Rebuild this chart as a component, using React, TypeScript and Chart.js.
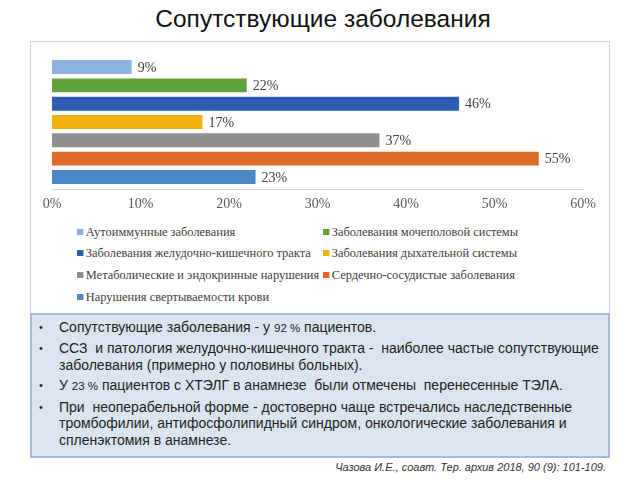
import React, { useEffect, useRef } from "react";
import { Chart, registerables } from "chart.js";

Chart.register(...registerables);

const categories = [
  "Аутоиммунные  заболевания",
  "Заболевания мочеполовой системы",
  "Заболевания желудочно-кишечного тракта",
  "Заболевания дыхательной системы",
  "Метаболические и эндокринные нарушения",
  "Сердечно-сосудистые заболевания",
  "Нарушения свертываемости крови",
];
const values = [9, 22, 46, 17, 37, 55, 23];
const colors = ["#8eb4e3", "#62a23c", "#2e5db3", "#f0b30c", "#8f8f8f", "#de6a27", "#4a88c8"];
const xTickMin = 0;
const xTickMax = 60;
const xTickStep = 10;

const title = "Сопутствующие заболевания";
const citation = "Чазова И.Е., соавт. Тер. архив 2018, 90 (9): 101-109.";

const valueLabels = {
  id: "valueLabels",
  afterDatasetsDraw(chart: any) {
    const ctx = chart.ctx;
    ctx.save();
    ctx.font = "14px 'Liberation Serif'";
    ctx.fillStyle = "#404040";
    ctx.textBaseline = "middle";
    ctx.textAlign = "left";
    chart.data.datasets.forEach((ds: any, i: number) => {
      const meta = chart.getDatasetMeta(i);
      meta.data.forEach((el: any, j: number) => {
        ctx.fillText(ds.data[j] + "%", el.x + 6, el.y + 1);
      });
    });
    ctx.restore();
  },
};

function ChartBox() {
  const ref = useRef<HTMLCanvasElement>(null);
  useEffect(() => {
    if (!ref.current) return;
    const chart = new Chart(ref.current, {
      type: "bar",
      data: {
        labels: [""],
        datasets: categories.map((name, i) => ({
          label: name,
          data: [values[i]],
          backgroundColor: colors[i],
          borderWidth: 0,
          barPercentage: 0.76,
          categoryPercentage: 0.957,
        })),
      },
      options: {
        indexAxis: "y",
        animation: false,
        responsive: false,
        layout: { padding: { left: 22, right: 26, top: 14, bottom: 0 } },
        plugins: { legend: { display: false }, tooltip: { enabled: false } },
        scales: {
          x: {
            min: xTickMin,
            max: xTickMax,
            afterFit: (s: any) => {
              s.height = 32;
            },
            grid: { display: false, drawTicks: false },
            border: { display: true, color: "#d9d9d9", width: 1 },
            ticks: {
              stepSize: xTickStep,
              padding: 7,
              color: "#595959",
              font: { family: "'Liberation Serif'", size: 14 },
              callback: (v: any) => v + "%",
            },
          },
          y: { display: false },
        },
      },
      plugins: [valueLabels],
    });
    return () => chart.destroy();
  }, []);
  return (
    <canvas
      ref={ref}
      width={579}
      height={180}
      style={{ position: "absolute", left: 30, top: 41, width: 579, height: 180 }}
    />
  );
}

export default function App() {
  const legendStyle: React.CSSProperties = {
    position: "absolute",
    fontFamily: "'Liberation Serif'",
    fontSize: 13.5,
    color: "#404040",
    whiteSpace: "nowrap",
    lineHeight: "16px",
    transform: "scaleX(0.92)",
    transformOrigin: "left center",
  };
  const rowsY = [224, 245, 267, 289];
  return (
    <div
      style={{
        position: "absolute",
        left: 0,
        top: 0,
        width: 640,
        height: 480,
        background: "#ffffff",
        overflow: "hidden",
      }}
    >
      <div
        style={{
          position: "absolute",
          left: 0,
          top: 4,
          width: 646,
          textAlign: "center",
          fontFamily: "'Liberation Sans'",
          fontSize: 24.5,
          color: "#111",
          lineHeight: "30px",
        }}
      >
        {title}
      </div>
      <div
        style={{
          position: "absolute",
          left: 30,
          top: 41,
          width: 578,
          height: 271,
          border: "1px solid #c3d4e2",
        }}
      />
      <ChartBox />
      {categories.map((name, i) => {
        const col = i % 2;
        const row = Math.floor(i / 2);
        return (
          <div key={name} style={{ ...legendStyle, left: col === 0 ? 77 : 323, top: rowsY[row] }}>
            <span
              style={{
                display: "inline-block",
                width: 6.5,
                height: 6.5,
                background: colors[i],
                marginRight: 3,
                verticalAlign: "1px",
              }}
            />
            {name}
          </div>
        );
      })}
      <div
        style={{
          position: "absolute",
          left: 30,
          top: 313,
          width: 576,
          height: 141,
          background: "#dbe5f1",
          border: "2px solid #a5bad6",
        }}
      />
      <div
        style={{
          position: "absolute",
          left: 0,
          top: 319,
          fontFamily: "'Liberation Sans'",
          fontSize: 14,
          color: "#222",
          lineHeight: "16.6px",
          whiteSpace: "nowrap",
        }}
      >
        {[
          [<>Сопутствующие заболевания - у <span style={{ fontSize: 11.5 }}>92 %</span> пациентов.</>],
          [
            <>ССЗ&nbsp; и патология желудочно-кишечного тракта - &nbsp;наиболее частые сопутствующие</>,
            <>заболевания (примерно у половины больных).</>,
          ],
          [<>У <span style={{ fontSize: 11.5 }}>23 %</span> пациентов с ХТЭЛГ в анамнезе&nbsp; были отмечены&nbsp; перенесенные ТЭЛА.</>],
          [
            <>При&nbsp; неоперабельной форме - достоверно чаще встречались наследственные</>,
            <>тромбофилии, антифосфолипидный синдром, онкологические заболевания и</>,
            <>спленэктомия в анамнезе.</>,
          ],
        ].map((lines, i) => (
          <div key={i} style={{ position: "relative", marginBottom: 3.8 }}>
            <span style={{ position: "absolute", left: 39, top: 0, fontSize: 11 }}>•</span>
            {lines.map((l, j) => (
              <div key={j} style={{ paddingLeft: 59 }}>
                {l}
              </div>
            ))}
          </div>
        ))}
      </div>
      <div
        style={{
          position: "absolute",
          right: 34,
          top: 459,
          fontFamily: "'Liberation Sans'",
          fontStyle: "italic",
          fontSize: 11,
          color: "#333",
          whiteSpace: "nowrap",
          lineHeight: "16px",
        }}
      >
        {citation}
      </div>
    </div>
  );
}
